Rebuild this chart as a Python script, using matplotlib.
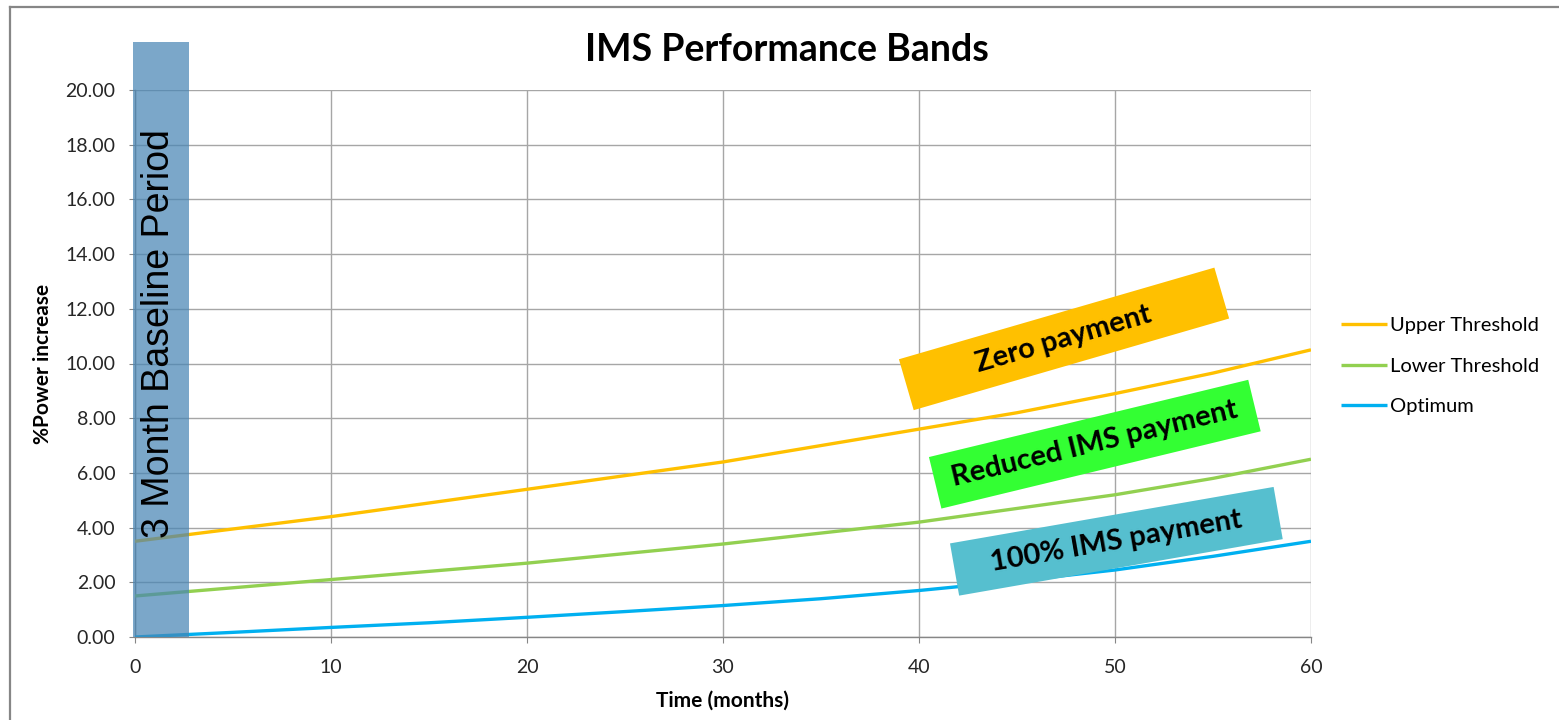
import matplotlib
matplotlib.use("Agg")
import matplotlib.pyplot as plt
from matplotlib.patches import Rectangle
from matplotlib.lines import Line2D
from matplotlib.ticker import FormatStrFormatter
from matplotlib.transforms import Affine2D, ScaledTranslation

# ---- data ----
months = [0, 5, 10, 15, 20, 25, 30, 35, 40, 45, 50, 55, 60]
upper_threshold = [3.5, 3.95, 4.4, 4.9, 5.4, 5.9, 6.4, 7.0, 7.6, 8.2, 8.9, 9.65, 10.5]
lower_threshold = [1.5, 1.8, 2.1, 2.4, 2.7, 3.05, 3.4, 3.8, 4.2, 4.7, 5.2, 5.8, 6.5]
optimum = [0.0, 0.17, 0.35, 0.52, 0.72, 0.93, 1.15, 1.4, 1.7, 2.05, 2.45, 2.95, 3.5]
series_names = ["Upper Threshold", "Lower Threshold", "Optimum"]
series_colors = ["#FFC000", "#92D050", "#00B0F0"]
x_ticks = [0, 10, 20, 30, 40, 50, 60]
y_ticks = [0, 2, 4, 6, 8, 10, 12, 14, 16, 18, 20]
baseline_end = 2.75
baseline_label = "3 Month Baseline Period"
band_labels = ["Zero payment", "Reduced IMS payment", "100% IMS payment"]
band_colors = ["#FFC000", "#33FF33", "#56BFCF"]
band_centers_x = [47.4, 48.97, 50.07]
band_centers_y = [10.9, 7.05, 3.5]
band_angles = [16.2, 13.6, 9.9]

FONT = ["Lato", "DejaVu Sans"]
GRAY = "#868686"

fig = plt.figure(figsize=(15.59, 7.2), dpi=100)
ax = fig.add_axes([135 / 1559, 83 / 720, 1176 / 1559, 547 / 720])

ax.set_xlim(0, 60)
ax.set_ylim(0, 20)
ax.set_xticks(x_ticks)
ax.set_yticks(y_ticks)
ax.yaxis.set_major_formatter(FormatStrFormatter("%.2f"))
ax.grid(True, color="#A6A6A6", linewidth=1.0)
ax.set_axisbelow(True)
for s in ["top", "right"]:
    ax.spines[s].set_visible(False)
for s in ["left", "bottom"]:
    ax.spines[s].set_color(GRAY)
    ax.spines[s].set_linewidth(1.0)
ax.tick_params(axis="both", direction="out", length=4, color=GRAY,
               labelsize=14, labelcolor="#262626")
ax.tick_params(axis="y", pad=10)
ax.tick_params(axis="x", pad=12)
for lab in ax.get_xticklabels() + ax.get_yticklabels():
    lab.set_family(FONT)

# series
for vals, name, col in zip([upper_threshold, lower_threshold, optimum],
                           series_names, series_colors):
    ax.plot(months, vals, color=col, lw=2.4, label=name, zorder=3,
            solid_capstyle="butt")

# baseline period band
ax.add_patch(Rectangle((-0.1, 0), baseline_end + 0.1, 21.75, facecolor="#4885B4",
                       alpha=0.72, edgecolor="none", zorder=4, clip_on=False))
ax.text(1.73, 11.1, baseline_label, rotation=90, rotation_mode="anchor",
        ha="center", va="baseline", fontsize=27,
        family=["Liberation Sans", "DejaVu Sans"], color="black", zorder=6)

# rotated band labels
box_w, box_h = 3.285, 0.53
for lab, col, cx, cy, ang in zip(band_labels, band_colors, band_centers_x,
                                 band_centers_y, band_angles):
    tr = (Affine2D().rotate_deg(ang) + fig.dpi_scale_trans
          + ScaledTranslation(cx, cy, ax.transData))
    ax.add_patch(Rectangle((-box_w / 2, -box_h / 2), box_w, box_h, facecolor=col,
                           edgecolor="none", transform=tr, zorder=5, clip_on=False))
    ax.text(cx, cy, lab, rotation=ang, rotation_mode="anchor", ha="center",
            va="center", fontsize=21, fontweight="bold", family=FONT,
            color="black", zorder=6)

# labels
ax.set_xlabel("Time (months)", fontsize=15, fontweight="bold", family=FONT)
ax.xaxis.label.set_va("center")
ax.xaxis.set_label_coords(0.5, (637 - 701) / 547)
ax.set_ylabel("%Power increase", fontsize=15, fontweight="bold", family=FONT)
ax.yaxis.label.set_va("center")
ax.yaxis.set_label_coords((43 - 135) / 1176, 0.5)

fig.text(787 / 1559, 1 - 50 / 720, "IMS Performance Bands", ha="center",
         va="center", fontsize=27, fontweight="bold", family=FONT)

fig.legend(loc="center left", bbox_to_anchor=(1341 / 1559, 1 - 366 / 720),
           frameon=False, prop={"family": FONT, "size": 14.5},
           handlelength=2.3, handletextpad=0.15, labelspacing=1.18,
           borderpad=0, borderaxespad=0)

# outer chart border (top and left)
fig.add_artist(Line2D([10 / 1559, 1], [1 - 7 / 720, 1 - 7 / 720],
                      transform=fig.transFigure, color=GRAY, lw=1.6))
fig.add_artist(Line2D([10 / 1559, 10 / 1559], [0, 1 - 7 / 720],
                      transform=fig.transFigure, color=GRAY, lw=1.6))

fig.savefig("out.png", dpi=100)
